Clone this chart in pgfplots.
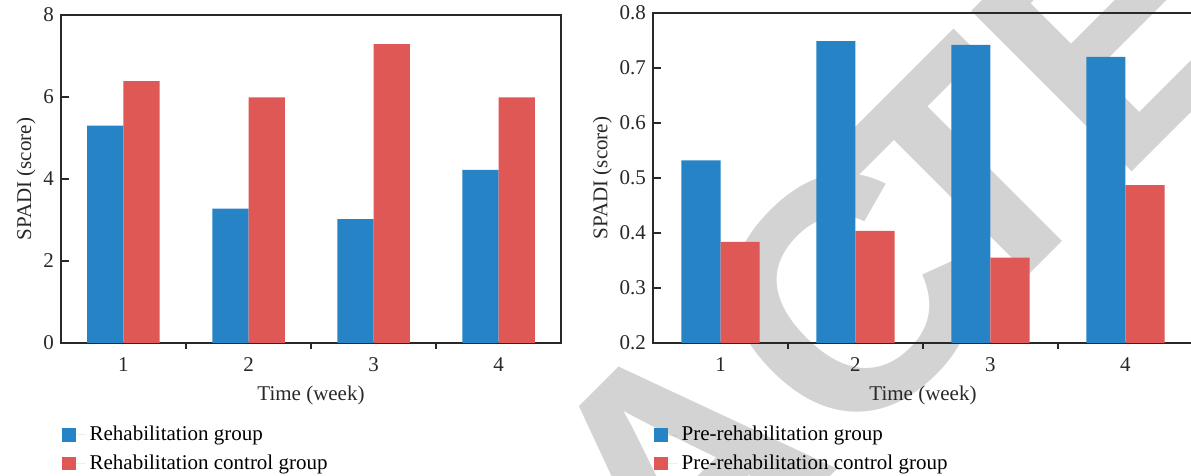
\documentclass[border=0pt]{standalone}
\usepackage{fontspec}
\setmainfont{Liberation Serif}
\setsansfont{Liberation Sans}
\usepackage{pgfplots}
\pgfplotsset{compat=1.18}
\definecolor{cblue}{RGB}{38,131,198}
\definecolor{cred}{RGB}{224,88,85}
\definecolor{wm}{RGB}{211,211,211}
\definecolor{axc}{RGB}{40,40,40}
\pgfplotsset{
 base/.style={
  scale only axis,
  xmin=0.5, xmax=4.5,
  xtick={1,2,3,4},
  minor xtick={1.5,2.5,3.5},
  major x tick style={draw=none},
  minor tick length=3pt,
  major tick length=4pt,
  xtick pos=bottom, ytick pos=left,
  tick align=inside,
  axis line style={line width=0.8pt, axc},
  every tick/.style={line width=0.6pt, axc},
  tick label style={font=\fontsize{10.5}{12}\selectfont, text=axc},
  label style={font=\fontsize{10.5}{12}\selectfont, text=axc},
  ylabel shift=-3pt,
  /pgf/number format/assume math mode=true,
  xlabel={Time (week)},
  ylabel={SPADI (score)},
  ybar, bar width=0.29,
  legend image code/.code={\fill[##1,draw=none] (0pt,-3.3pt) rectangle (6.6pt,3.3pt); \path (0pt,0pt) -- (11.6pt,0pt);},
  legend cell align=left,
  legend style={draw=none, fill=none, font=\fontsize{10.5}{12}\selectfont, anchor=north west, row sep=1.5pt},
 }
}
\begin{document}
\begin{tikzpicture}
\useasboundingbox (0,0) rectangle (595.5pt,238pt);
\clip (0,0) rectangle (595.5pt,238pt);
\node[rotate=45, anchor=base east, text=wm, font=\fontsize{165}{165}\selectfont\sffamily\bfseries, inner sep=0pt] at (506.5pt,91pt) {RETRAC};
\node[rotate=45, anchor=base west, text=wm, font=\fontsize{165}{165}\selectfont\sffamily\bfseries, inner sep=0pt] at (487pt,73pt) {TED};
\begin{axis}[base, at={(30.5pt,66.5pt)}, anchor=south west, width=250pt, height=164pt,
  ymin=0, ymax=8, ytick={0,2,4,6,8},
  legend style={at={(-0.01,-0.228)}}]
\addplot[fill=cblue, draw=none, bar shift=-0.145] coordinates {(1,5.3) (2,3.28) (3,3.02) (4,4.22)};
\addplot[fill=cred, draw=none, bar shift=0.145] coordinates {(1,6.39) (2,5.99) (3,7.29) (4,5.99)};
\legend{Rehabilitation group, Rehabilitation control group}
\end{axis}
\begin{axis}[base, at={(326.5pt,66.5pt)}, anchor=south west, width=270pt, height=165pt,
  ymin=0.2, ymax=0.8, ytick={0.2,0.3,...,0.8},
  yticklabel style={/pgf/number format/.cd, fixed, precision=1, fixed zerofill},
  legend style={at={(-0.0093,-0.227)}}]
\addplot[fill=cblue, draw=none, bar shift=-0.145] coordinates {(1,0.532) (2,0.749) (3,0.742) (4,0.720)};
\addplot[fill=cred, draw=none, bar shift=0.145] coordinates {(1,0.384) (2,0.404) (3,0.355) (4,0.487)};
\legend{Pre-rehabilitation group, Pre-rehabilitation control group}
\end{axis}
\end{tikzpicture}
\end{document}
